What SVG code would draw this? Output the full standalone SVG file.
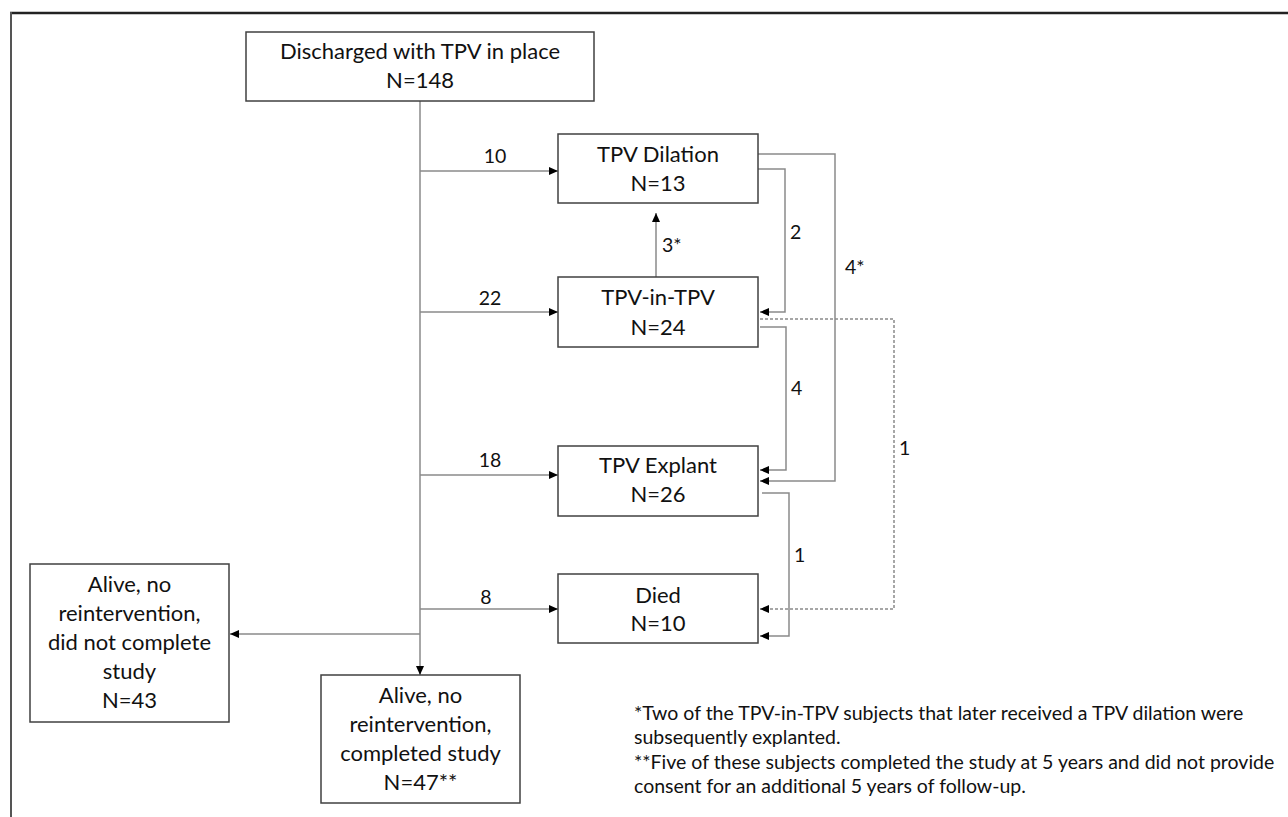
<svg xmlns="http://www.w3.org/2000/svg" width="1288" height="817" viewBox="0 0 1288 817">
<style>
.box{fill:#fff;stroke:#404040;stroke-width:1.5}
.t{font-family:Lato,"Liberation Sans",sans-serif;font-size:22px;fill:#111;text-anchor:middle}
.lbl{font-family:Lato,"Liberation Sans",sans-serif;font-size:19.5px;fill:#111}
.fn{font-family:Lato,"Liberation Sans",sans-serif;font-size:19.5px;fill:#111}
.c{fill:none;stroke:#8a8a8a;stroke-width:1.5}
.d{fill:none;stroke:#8a8a8a;stroke-width:1.5;stroke-dasharray:3 2}
</style>
<defs>
<marker id="ah" markerUnits="userSpaceOnUse" markerWidth="9" markerHeight="8" refX="9" refY="4" orient="auto">
<path d="M0,0 L9,4 L0,8 z" fill="#000"/>
</marker>
</defs>
<rect width="1288" height="817" fill="#fff"/>
<g id="frame">
<line x1="10" y1="13" x2="1288" y2="13" stroke="#222" stroke-width="2.5"/>
<line x1="11" y1="12" x2="11" y2="817" stroke="#555" stroke-width="2"/>
</g>
<g id="connectors">
<line class="c" x1="420" y1="101" x2="420" y2="675" marker-end="url(#ah)"/>
<line class="c" x1="420" y1="171" x2="558" y2="171" marker-end="url(#ah)"/>
<line class="c" x1="420" y1="312" x2="558" y2="312" marker-end="url(#ah)"/>
<line class="c" x1="420" y1="475" x2="558" y2="475" marker-end="url(#ah)"/>
<line class="c" x1="420" y1="609" x2="558" y2="609" marker-end="url(#ah)"/>
<line class="c" x1="420" y1="634" x2="230" y2="634" marker-end="url(#ah)"/>
<line class="c" x1="656" y1="277" x2="656" y2="213" marker-end="url(#ah)"/>
<polyline class="c" points="758,169 785,169 785,312 760,312" marker-end="url(#ah)"/>
<polyline class="c" points="758,154 835,154 835,481 760,481" marker-end="url(#ah)"/>
<polyline class="c" points="760,327 786,327 786,470 760,470" marker-end="url(#ah)"/>
<polyline class="d" points="760,319 894,319 894,609 760,609" marker-end="url(#ah)"/>
<polyline class="c" points="762,493 789,493 789,636 760,636" marker-end="url(#ah)"/>
<text class="lbl" x="495" y="163" text-anchor="middle">10</text>
<text class="lbl" x="490" y="305" text-anchor="middle">22</text>
<text class="lbl" x="490" y="467" text-anchor="middle">18</text>
<text class="lbl" x="486" y="604" text-anchor="middle">8</text>
<text class="lbl" x="662" y="252">3*</text>
<text class="lbl" x="790" y="239">2</text>
<text class="lbl" x="845" y="274">4*</text>
<text class="lbl" x="791" y="395">4</text>
<text class="lbl" x="899" y="455">1</text>
<text class="lbl" x="794" y="562">1</text>
</g>
<g id="discharged">
<rect class="box" x="246" y="32" width="348" height="69"/>
<text class="t" x="420" y="59">Discharged with TPV in place</text>
<text class="t" x="420" y="88">N=148</text>
</g>
<g id="dilation">
<rect class="box" x="558" y="134" width="200" height="69"/>
<text class="t" x="658" y="162">TPV Dilation</text>
<text class="t" x="658" y="191">N=13</text>
</g>
<g id="tpvintpv">
<rect class="box" x="558" y="277" width="200" height="70"/>
<text class="t" x="658" y="305">TPV-in-TPV</text>
<text class="t" x="658" y="335">N=24</text>
</g>
<g id="explant">
<rect class="box" x="558" y="446" width="200" height="70"/>
<text class="t" x="658" y="473">TPV Explant</text>
<text class="t" x="658" y="502">N=26</text>
</g>
<g id="died">
<rect class="box" x="558" y="574" width="200" height="69"/>
<text class="t" x="658" y="603">Died</text>
<text class="t" x="658" y="631">N=10</text>
</g>
<g id="notcomplete">
<rect class="box" x="30" y="564" width="199" height="158"/>
<text class="t" x="129.5" y="592">Alive, no</text>
<text class="t" x="129.5" y="621">reintervention,</text>
<text class="t" x="129.5" y="650">did not complete</text>
<text class="t" x="129.5" y="679">study</text>
<text class="t" x="129.5" y="708">N=43</text>
</g>
<g id="completed">
<rect class="box" x="321" y="675" width="199" height="128"/>
<text class="t" x="420.5" y="703">Alive, no</text>
<text class="t" x="420.5" y="732">reintervention,</text>
<text class="t" x="420.5" y="761">completed study</text>
<text class="t" x="420.5" y="790">N=47**</text>
</g>
<g id="footnote">
<text class="fn" x="634" y="720">*Two of the TPV-in-TPV subjects that later received a TPV dilation were</text>
<text class="fn" x="634" y="744">subsequently explanted.</text>
<text class="fn" x="634" y="769">**Five of these subjects completed the study at 5 years and did not provide</text>
<text class="fn" x="634" y="793">consent for an additional 5 years of follow-up.</text>
</g>
</svg>
